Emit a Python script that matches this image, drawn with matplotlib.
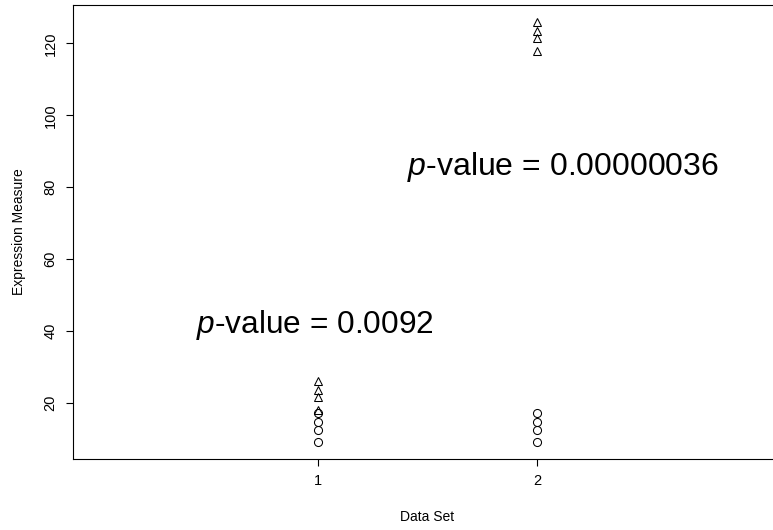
import matplotlib
matplotlib.use("Agg")
import matplotlib.pyplot as plt

plt.rcParams['font.family'] = ['Liberation Sans', 'DejaVu Sans']
plt.rcParams['mathtext.fontset'] = 'custom'
plt.rcParams['mathtext.it'] = 'Liberation Sans:italic'
plt.rcParams['mathtext.rm'] = 'Liberation Sans'

set1_circles = [17, 14.5, 12.5, 9]
set1_triangles = [26, 23.5, 21.5, 18]
set2_circles = [17, 14.5, 12.5, 9]
set2_triangles = [126, 123.5, 121.5, 118]
x_ticks = [1, 2]
y_ticks = [20, 40, 60, 80, 100, 120]
pval1 = "0.0092"
pval2 = "0.00000036"

fig = plt.figure(figsize=(7.73, 5.30), dpi=100)
ax = fig.add_axes([73/773, 1-459/530, (782-73)/773, (459-5)/530])

mk = dict(linestyle='none', markerfacecolor='none', markeredgecolor='black',
          markersize=5.8, markeredgewidth=0.75)
ax.plot([1]*len(set1_circles), set1_circles, marker='o', **mk)
ax.plot([1]*len(set1_triangles), set1_triangles, marker='^', **mk)
ax.plot([2]*len(set2_circles), set2_circles, marker='o', **mk)
ax.plot([2]*len(set2_triangles), set2_triangles, marker='^', **mk)

ax.text(0.985, 41.5, r"$\it{p}$-value = " + pval1, ha='center', va='center', fontsize=22.8)
ax.text(2.12, 85.5, r"$\it{p}$-value = " + pval2, ha='center', va='center', fontsize=23)

ax.set_xlim(-0.12, 3.12)
ax.set_ylim(4.3, 130.7)
ax.set_xticks(x_ticks)
ax.set_xticklabels([str(t) for t in x_ticks])
ax.set_yticks(y_ticks)
ax.set_yticklabels([str(t) for t in y_ticks], rotation=90, va='center')
ax.tick_params(direction='out', length=5, width=0.8, labelsize=10.5, pad=6)
for s in ax.spines.values():
    s.set_linewidth(0.8)
ax.set_xlabel("Data Set", fontsize=10, labelpad=15.5)
ax.set_ylabel("Expression Measure", fontsize=10, labelpad=13)

fig.savefig("out.png", dpi=100)
